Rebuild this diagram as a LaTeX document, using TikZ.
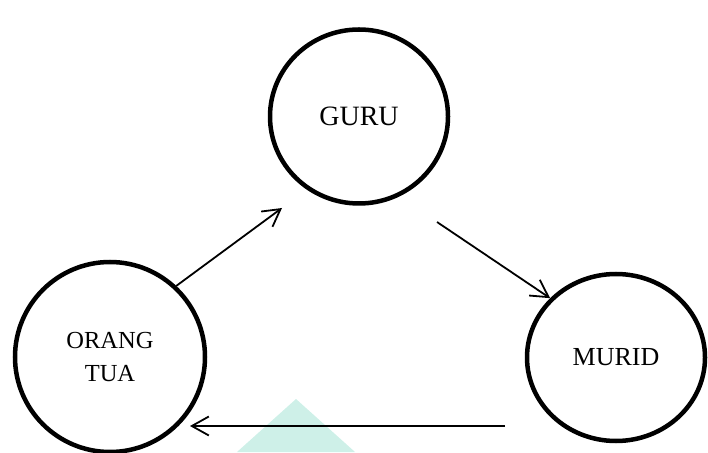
\documentclass[tikz,border=0pt]{standalone}
\usepackage{fontspec}
\setmainfont{Liberation Serif}
\usetikzlibrary{arrows.meta,shapes.geometric}
\definecolor{wm}{RGB}{206,240,232}
\begin{document}
\begin{tikzpicture}[x=1pt,y=1pt,
  bubble/.style={ellipse,draw=black,line width=4.5pt,inner sep=0pt,align=center},
  link/.style={line width=1.8pt,-{Straight Barb[length=17pt,width=19pt,line width=1.8pt]}}]
\useasboundingbox (0,0) rectangle (708,452);
\fill[wm] (296,53) -- (355,0) -- (237,0) -- cycle;
\node[bubble,minimum width=178pt,minimum height=174pt,font=\fontsize{28}{33}\selectfont] (guru) at (359,335.5) {GURU};
\node[bubble,minimum width=190pt,minimum height=190pt,font=\fontsize{24.5}{33}\selectfont] (ot) at (110,95) {ORANG\\TUA};
\node[bubble,minimum width=178pt,minimum height=167pt,font=\fontsize{26}{31}\selectfont] (mu) at (616,94.5) {MURID};
\coordinate (a1e) at (282,244);
\coordinate (a2s) at (437,230);
\coordinate (a3s) at (505,26);
\coordinate (a3e) at (190,26);
\draw[link] (ot.47) -- (a1e);
\draw[link] (a2s) -- (mu.138);
\draw[link] (a3s) -- (a3e);
\end{tikzpicture}
\end{document}
